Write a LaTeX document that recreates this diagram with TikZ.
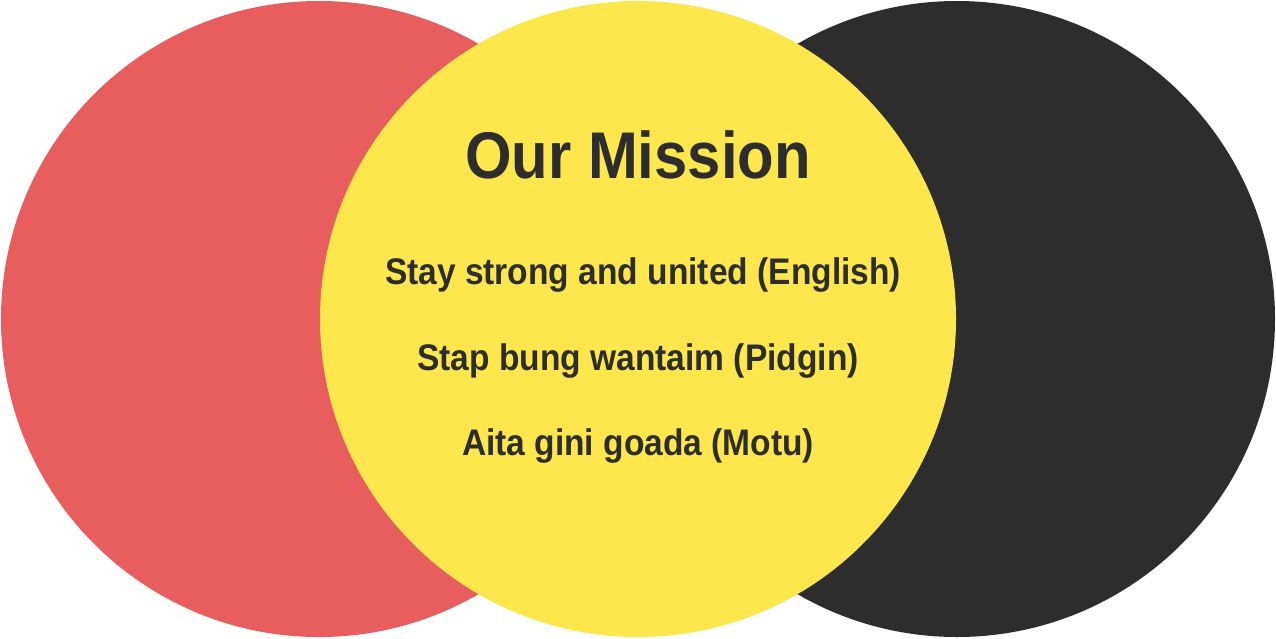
\documentclass[tikz,border=0pt]{standalone}
\usepackage{fontspec}
\setmainfont{Liberation Sans}[FakeStretch=0.906]
\definecolor{discred}{HTML}{E85D5D}
\definecolor{discyellow}{HTML}{FDE74C}
\definecolor{discdark}{HTML}{2D2D2D}
\begin{document}
\begin{tikzpicture}[x=1pt,y=-1pt,
  disc/.style={circle,minimum size=636pt,inner sep=0pt,draw=none},
  title/.style={anchor=base,text=discdark,font=\bfseries\fontsize{66}{70}\selectfont,inner sep=0pt},
  motto/.style={anchor=base,text=discdark,font=\bfseries\fontsize{37}{40}\selectfont,inner sep=0pt}]
  \useasboundingbox[fill=white] (0,0) rectangle (1276,638);
  % three overlapping discs, the middle one on top
  \node[disc,fill=discred]    (left)   at (319,319) {};
  \node[disc,fill=discdark]   (right)  at (957,319) {};
  \node[disc,fill=discyellow] (middle) at (638,319) {};
  % mission text
  \node[title] (heading) at (638,178) {Our Mission};
  \node[motto] (english) at (643,284) {Stay strong and united (English)};
  \node[motto] (pidgin)  at (638,370) {Stap bung wantaim (Pidgin)};
  \node[motto] (motu)    at (638,455) {Aita gini goada (Motu)};
\end{tikzpicture}
\end{document}
